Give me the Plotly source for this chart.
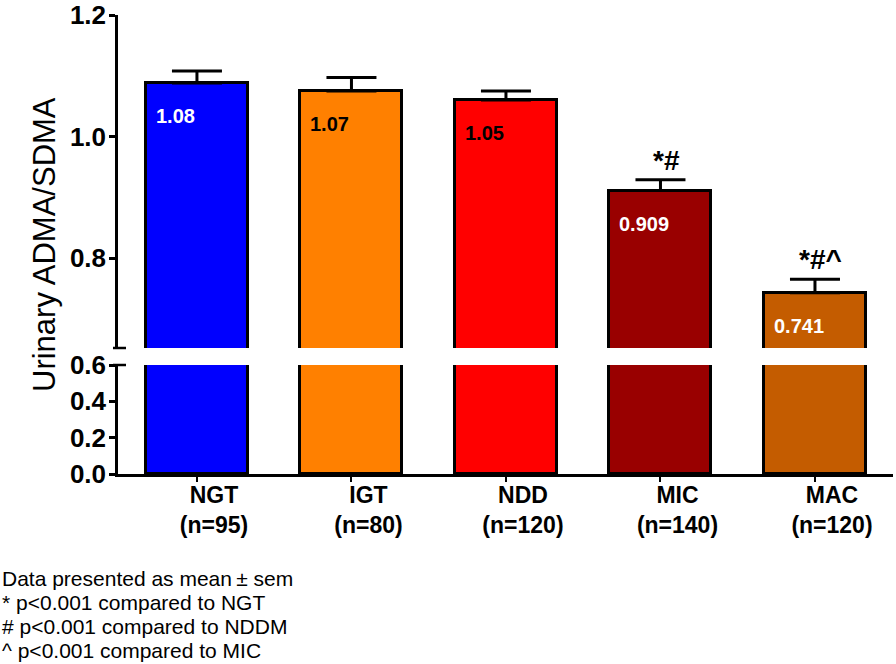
"""Urinary ADMA/SDMA by glycaemic group, bar chart with a broken y axis."""
import plotly.graph_objects as go

# data
groups = ["NGT", "IGT", "NDD", "MIC", "MAC"]
group_n = [95, 80, 120, 140, 120]
means = [1.088, 1.075, 1.06, 0.911, 0.743]
sems = [0.020, 0.022, 0.015, 0.018, 0.022]
value_labels = ["1.08", "1.07", "1.05", "0.909", "0.741"]
sig_marks = ["", "", "", "*#", "*#^"]
footnotes = [
    "Data presented as mean\u2009\u00b1 sem",
    "* p<0.001 compared to NGT",
    "# p<0.001 compared to NDDM",
    "^ p<0.001 compared to MIC",
]

# styling
BAR_COLORS = ["#0000ff", "#ff8000", "#ff0000", "#990000", "#c45c00"]
LABEL_COLORS = ["#ffffff", "#000000", "#000000", "#ffffff", "#ffffff"]
FONT = "Liberation Sans, Arial, sans-serif"
BAR_W = 0.66

W, H = 896, 664
L, R, T, B = 118, 3, 15, 190
PH = H - T - B  # plot height in px


def py(px):
    """page pixel row -> paper y"""
    return (H - B - px) / PH


def px_x(px):
    """page pixel column -> paper x"""
    return (px - L) / (W - L - R)


x = list(range(len(groups)))
ticktext = [f"{g}<br>(n={n})" for g, n in zip(groups, group_n)]

fig = go.Figure()
bar_style = dict(marker_color=BAR_COLORS, marker_line_color="black",
                 marker_line_width=3, width=BAR_W, showlegend=False,
                 hoverinfo="skip")
# lower segment 0 - 0.6
fig.add_trace(go.Bar(x=x, y=means, xaxis="x", yaxis="y", **bar_style))
# upper segment with the one-sided sem bars
fig.add_trace(go.Bar(x=x, y=means, xaxis="x", yaxis="y2",
                     error_y=dict(type="data", symmetric=False, array=sems,
                                  arrayminus=[0] * len(sems), color="black",
                                  thickness=3, width=25),
                     **bar_style))

axis_common = dict(showline=True, linecolor="black", linewidth=2.5,
                   ticks="outside", ticklen=6, tickwidth=2.5, tickcolor="black",
                   showgrid=False, zeroline=False, ticklabelstandoff=-2,
                   tickfont=dict(family=FONT, size=26, color="black", weight="bold"))

lo_top = py(365)
hi_bot = py(348)

fig.update_layout(
    width=W, height=H,
    margin=dict(l=L, r=R, t=T, b=B, autoexpand=False),
    paper_bgcolor="white", plot_bgcolor="white",
    bargap=0,
    xaxis=dict(range=[-0.511, 4.505], anchor="y", tickvals=x, ticktext=ticktext,
               showline=True, linecolor="black", linewidth=2.5,
               ticks="outside", ticklen=5, tickwidth=2, tickcolor="black",
               showgrid=False, zeroline=False, ticklabelshift=17,
               ticklabelstandoff=-6,
               tickfont=dict(family=FONT, size=23, color="black", weight="bold")),
    yaxis=dict(domain=[0, lo_top], range=[0, 0.6], tickvals=[0, 0.2, 0.4, 0.6],
               tickformat=".1f", anchor="x", **axis_common),
    yaxis2=dict(domain=[hi_bot, 1], range=[0.652, 1.2], tickvals=[0.8, 1.0, 1.2],
                tickformat=".1f", anchor="x", **axis_common),
)

# break caps on the y axis
for yy in (hi_bot, lo_top):
    fig.add_shape(type="line", xref="paper", yref="paper",
                  x0=px_x(113), x1=px_x(126), y0=yy, y1=yy,
                  line=dict(color="black", width=2.5))

# value labels inside the bars
for i, (m, lab, col) in enumerate(zip(means, value_labels, LABEL_COLORS)):
    fig.add_annotation(x=i - BAR_W / 2, y=m, xref="x", yref="y2",
                       text=lab, showarrow=False, xanchor="left", yanchor="top",
                       xshift=8, yshift=-20,
                       font=dict(family=FONT, size=20, color=col, weight="bold"))

# significance marks above the sem bars
for i, (m, s, mark) in enumerate(zip(means, sems, sig_marks)):
    if mark:
        fig.add_annotation(x=i, y=m + s, xref="x", yref="y2", text=mark,
                           showarrow=False, yanchor="bottom", xshift=6, yshift=2,
                           font=dict(family=FONT, size=28, color="black",
                                     weight="bold"))

# y axis title
fig.add_annotation(x=px_x(25), y=0.5, xref="paper", yref="paper",
                   text="Urinary ADMA/SDMA", textangle=-90, showarrow=False,
                   font=dict(family=FONT, size=31, color="black"))

# footnotes
for k, line in enumerate(footnotes):
    fig.add_annotation(x=px_x(0), y=py(578 + 24.3 * k), xref="paper", yref="paper",
                       text=line, showarrow=False, xanchor="left", yanchor="middle",
                       font=dict(family=FONT, size=21, color="black"))

# the page body has a default 8px margin; drop it so the figure sits at 0,0
fig.write_html("out.html", config={"displayModeBar": False},
               post_script="document.body.style.margin='0';")
